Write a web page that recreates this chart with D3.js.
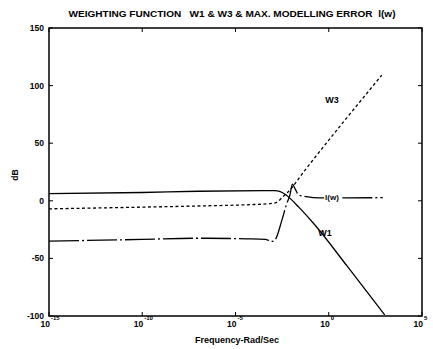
<!DOCTYPE html>
<html><head><meta charset="utf-8">
<script src="https://cdn.jsdelivr.net/npm/d3@7/dist/d3.min.js"></script>
<style>body{margin:0;background:#fff}svg{display:block}text{font-family:"Liberation Sans",Arial,sans-serif;font-weight:bold;fill:#000}</style>
</head><body>
<script>
// ---- data (frequency in rad/s, magnitude in dB) ----
const w1Freq = [1e-15, 1e-10, 1e-7, 3.2e-4, 1.26e-3, 2.5e-3, 5.0e-3, 1.0e-2, 2.34e-2, 0.182, 10, 1000];
const w1Db   = [6.2, 7.2, 8.3, 8.8, 8.8, 8.0, 5.2, 1.0, -5.1, -21, -57, -99];
const w3Freq = [1e-15, 1e-10, 1e-7, 1e-4, 7.1e-4, 1.58e-3, 3.55e-3, 6.76e-3, 5.37e-2, 692];
const w3Db   = [-7, -5.5, -4.5, -3.2, -2.5, -1.3, 3.6, 7.9, 26.7, 109];
const lwFreq = [1e-15, 1e-10, 1e-7, 3.98e-5, 3.98e-4, 8.7e-4, 1.32e-3, 3.02e-3, 5.5e-3, 8.3e-3, 1.12e-2, 1.58e-2, 2.51e-2, 6.31e-2, 0.316, 794];
const lwDb   = [-35, -33.5, -32.5, -33, -33.5, -35.3, -33.9, -17.2, -2.8, 5.0, 14.5, 10.3, 5.0, 3.6, 2.5, 2.7];
const xTickExp = [-15, -10, -5, 0, 5];
const yTicks = [-100, -50, 0, 50, 100, 150];
const title = "WEIGHTING FUNCTION   W1 & W3 & MAX. MODELLING ERROR  l(w)";

const W = 433, H = 349;
const L = 49, R = 422, T = 28, B = 316;
const svg = d3.select("body").append("svg").attr("width", W).attr("height", H);
const x = d3.scaleLog().domain([1e-15, 1e5]).range([L, R]);
const y = d3.scaleLinear().domain([-100, 150]).range([B, T]);

const line = (fx, fy) => d3.line().x((d, i) => x(fx[i])).y((d, i) => y(fy[i])).curve(d3.curveMonotoneX)(fx);

svg.append("path").attr("d", line(w1Freq, w1Db)).attr("fill", "none").attr("stroke", "#000").attr("stroke-width", 1.3);
svg.append("path").attr("d", line(w3Freq, w3Db)).attr("fill", "none").attr("stroke", "#000").attr("stroke-width", 1.3).attr("stroke-dasharray", "3,2.5");
svg.append("path").attr("d", line(lwFreq, lwDb)).attr("fill", "none").attr("stroke", "#000").attr("stroke-width", 1.3).attr("stroke-dasharray", "30,3,2,3");

// frame and ticks
svg.append("rect").attr("x", L).attr("y", T).attr("width", R - L).attr("height", B - T).attr("fill", "none").attr("stroke", "#000").attr("stroke-width", 1.5);
const tk = 4;
xTickExp.forEach(e => {
  const px = x(Math.pow(10, e));
  svg.append("line").attr("x1", px).attr("x2", px).attr("y1", B).attr("y2", B - tk).attr("stroke", "#000");
  svg.append("line").attr("x1", px).attr("x2", px).attr("y1", T).attr("y2", T + tk).attr("stroke", "#000");
  svg.append("text").attr("x", px + 1).attr("y", 327).attr("text-anchor", "end").attr("font-size", 8.5).text("10");
  svg.append("text").attr("x", px + 2).attr("y", 320).attr("font-size", 6).text(String(e));
});
yTicks.forEach(v => {
  const py = y(v);
  svg.append("line").attr("x1", L).attr("x2", L + tk).attr("y1", py).attr("y2", py).attr("stroke", "#000");
  svg.append("line").attr("x1", R).attr("x2", R - tk).attr("y1", py).attr("y2", py).attr("stroke", "#000");
  svg.append("text").attr("x", 44).attr("y", py + 3).attr("text-anchor", "end").attr("font-size", 8.5).text(String(v));
});

// texts
svg.append("text").attr("x", 232).attr("y", 16.5).attr("text-anchor", "middle").attr("font-size", 9)
  .attr("textLength", 327).attr("lengthAdjust", "spacingAndGlyphs").style("white-space", "pre").text(title);
svg.append("text").attr("x", 237).attr("y", 343).attr("text-anchor", "middle").attr("font-size", 9).text("Frequency-Rad/Sec");
svg.append("text").attr("transform", "translate(18,175) rotate(-90)").attr("text-anchor", "middle").attr("font-size", 8.5).text("dB");
svg.append("text").attr("x", 332).attr("y", 102.5).attr("text-anchor", "middle").attr("font-size", 9).text("W3");
svg.append("text").attr("x", 325).attr("y", 235.5).attr("text-anchor", "middle").attr("font-size", 9).text("W1");
svg.append("rect").attr("x", 324).attr("y", 192).attr("width", 16).attr("height", 10).attr("fill", "#fff");
svg.append("text").attr("x", 332).attr("y", 200).attr("text-anchor", "middle").attr("font-size", 8).text("l(w)");
</script>
</body></html>
